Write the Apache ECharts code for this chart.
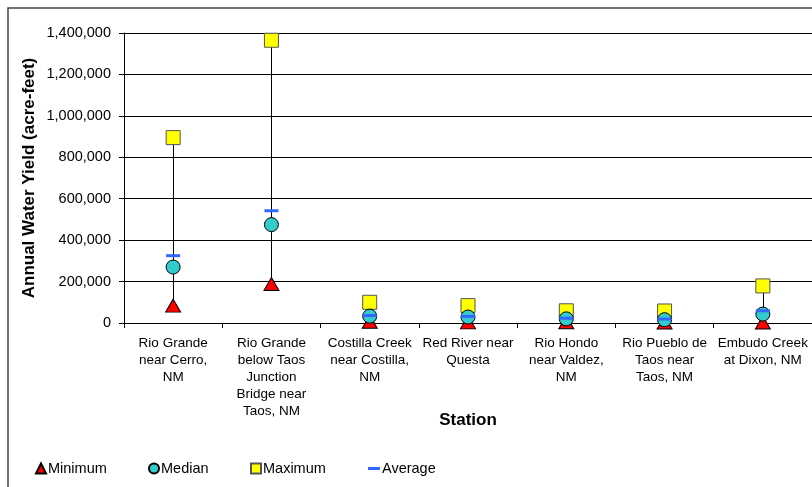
<!DOCTYPE html>
<html>
<head>
<meta charset="utf-8">
<script src="https://cdn.jsdelivr.net/npm/echarts@6/dist/echarts.min.js"></script>
<style>
  html, body { margin: 0; padding: 0; background: #fff; }
  #chart { width: 812px; height: 487px; }
</style>
</head>
<body>
<div id="chart"></div>
<script>
// Stations along the upper Rio Grande and its tributaries
const stations = [
  'Rio Grande\nnear Cerro,\nNM',
  'Rio Grande\nbelow Taos\nJunction\nBridge near\nTaos, NM',
  'Costilla Creek\nnear Costilla,\nNM',
  'Red River near\nQuesta',
  'Rio Hondo\nnear Valdez,\nNM',
  'Rio Pueblo de\nTaos near\nTaos, NM',
  'Embudo Creek\nat Dixon, NM'
];

// Annual water yield statistics (acre-feet)
const minimum = [84000, 188000, 6000, 3000, 4000, 2000, 2000];
const median  = [270000, 475000, 33000, 29000, 20000, 16000, 43000];
const maximum = [895000, 1365000, 100000, 84000, 59000, 58000, 179000];
const average = [325000, 542000, 36000, 32000, 23000, 19000, 59000];

const yTicks = { min: 0, max: 1400000, interval: 200000 };

const fontFamily = 'Liberation Sans, Arial, sans-serif';

function fmt(v) {
  return v.toLocaleString('en-US');
}

const chart = echarts.init(document.getElementById('chart'), null, { renderer: 'canvas' });

// high-low range line for each station
const rangeData = stations.map((s, i) => [i, minimum[i], maximum[i]]);

const legendBase = {
  top: 456,
  itemWidth: 10,
  itemHeight: 10,
  textStyle: { fontFamily, fontSize: 14.5, color: '#000', padding: [0, 0, 0, -3] },
  itemGap: 0
};

chart.setOption({
  animation: false,
  backgroundColor: '#fff',
  graphic: [{
    type: 'rect',
    shape: { x: 8, y: 8, width: 900, height: 600 },
    style: { fill: 'none', stroke: '#444', lineWidth: 1.5 },
    z: -10
  }],
  grid: { left: 124, top: 33, right: -4, bottom: 164, containLabel: false },
  legend: [
    Object.assign({}, legendBase, { left: 30, data: [{ name: 'Minimum', icon: 'triangle' }] }),
    Object.assign({}, legendBase, { left: 143, data: [{ name: 'Median', icon: 'circle' }] }),
    Object.assign({}, legendBase, { left: 245, data: [{ name: 'Maximum', icon: 'rect' }] }),
    Object.assign({}, legendBase, { left: 363, itemWidth: 12, itemHeight: 3, data: [{ name: 'Average', icon: 'rect' }] })
  ],
  xAxis: {
    type: 'category',
    data: stations,
    name: 'Station',
    nameLocation: 'middle',
    nameGap: 89,
    nameMoveOverlap: false,
    nameTextStyle: { fontFamily, fontSize: 17, fontWeight: 'bold', color: '#000' },
    axisLine: { lineStyle: { color: '#000', width: 1 } },
    axisTick: { show: true, length: 5, lineStyle: { color: '#000' }, alignWithLabel: false },
    axisLabel: {
      interval: 0,
      margin: 12,
      fontFamily,
      fontSize: 13.5,
      lineHeight: 17,
      color: '#000',
      align: 'center'
    },
    splitLine: { show: false }
  },
  yAxis: {
    type: 'value',
    min: yTicks.min,
    max: yTicks.max,
    interval: yTicks.interval,
    name: 'Annual Water Yield (acre-feet)',
    nameLocation: 'middle',
    nameGap: 86,
    nameMoveOverlap: false,
    nameTextStyle: { fontFamily, fontSize: 17, fontWeight: 'bold', color: '#000' },
    axisLine: { show: true, lineStyle: { color: '#000', width: 1 } },
    axisTick: { show: true, length: 5, lineStyle: { color: '#000' } },
    axisLabel: { margin: 13, fontFamily, fontSize: 14.5, color: '#000', formatter: fmt },
    splitLine: { show: true, lineStyle: { color: '#000', width: 1 } }
  },
  series: [
    {
      type: 'custom',
      name: 'range',
      data: rangeData,
      z: 1,
      silent: true,
      renderItem(params, api) {
        const lo = api.coord([api.value(0), api.value(1)]);
        const hi = api.coord([api.value(0), api.value(2)]);
        return {
          type: 'line',
          shape: { x1: Math.round(lo[0]) + 0.5, y1: lo[1], x2: Math.round(hi[0]) + 0.5, y2: hi[1] },
          style: { stroke: '#000', lineWidth: 1 }
        };
      }
    },
    {
      name: 'Minimum',
      type: 'scatter',
      data: minimum,
      symbol: 'triangle',
      symbolSize: [15, 13],
      itemStyle: { color: '#FF0000', borderColor: '#000', borderWidth: 1, opacity: 1 },
      clip: false,
      z: 2
    },
    {
      name: 'Maximum',
      type: 'scatter',
      data: maximum,
      symbol: 'rect',
      symbolSize: 14,
      itemStyle: { color: '#FFFF00', borderColor: '#555', borderWidth: 1, opacity: 1 },
      clip: false,
      z: 3
    },
    {
      name: 'Median',
      type: 'scatter',
      data: median,
      symbol: 'circle',
      symbolSize: 14,
      itemStyle: { color: '#33CCCC', borderColor: '#000', borderWidth: 1, opacity: 1 },
      clip: false,
      z: 4
    },
    {
      name: 'Average',
      type: 'scatter',
      data: average,
      symbol: 'rect',
      symbolSize: [14, 3],
      itemStyle: { color: '#3366FF', opacity: 1 },
      clip: false,
      z: 5
    }
  ]
});
</script>
</body>
</html>
